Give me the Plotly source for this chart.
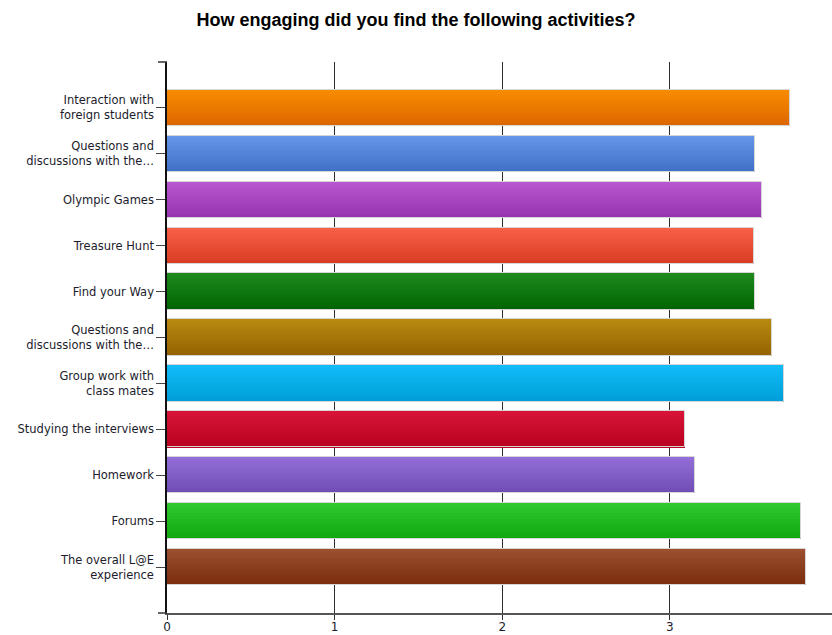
import plotly.graph_objects as go

# Survey results: mean engagement score per activity
activities = [
    "Interaction with<br>foreign students",
    "Questions and<br>discussions with the…",
    "Olympic Games",
    "Treasure Hunt",
    "Find your Way",
    "Questions and<br>discussions with the…",
    "Group work with<br>class mates",
    "Studying the interviews",
    "Homework",
    "Forums",
    "The overall L@E<br>experience",
]
scores = [3.72, 3.51, 3.55, 3.50, 3.51, 3.61, 3.68, 3.09, 3.15, 3.78, 3.81]
x_ticks = [0, 1, 2, 3]

# Gradient end colours (top, bottom) for each bar
top_colors = ["#f98c00", "#6797e8", "#b957d0", "#f86048", "#1e8a1e", "#b88a10",
              "#12bcf8", "#d81438", "#946ed8", "#30ca30", "#9c5030"]
bottom_colors = ["#dc6600", "#3f6fc6", "#9632ae", "#d83c22", "#006400", "#946200",
                 "#009ed8", "#b8001e", "#6e4cb4", "#0ea80e", "#7a2c0c"]

positions = list(range(len(activities)))
bar_width = 0.79
n_bands = 14


def hex_to_rgb(h):
    h = h.lstrip("#")
    return tuple(int(h[i:i + 2], 16) for i in (0, 2, 4))


def blend(c1, c2, t):
    a, b = hex_to_rgb(c1), hex_to_rgb(c2)
    return "rgb(%d,%d,%d)" % tuple(round(a[i] + (b[i] - a[i]) * t) for i in range(3))


fig = go.Figure()

# Vertical gradient built from thin overlaid bar slices
band = bar_width / n_bands
for k in range(n_bands):
    t = (k + 0.5) / n_bands
    fig.add_trace(go.Bar(
        x=scores, y=positions, orientation="h",
        width=band * 1.02, offset=-bar_width / 2 + k * band,
        marker=dict(color=[blend(tc, bc, t) for tc, bc in zip(top_colors, bottom_colors)],
                    line=dict(width=0)),
        hoverinfo="skip", showlegend=False,
    ))

# Light outline around each bar
fig.add_trace(go.Bar(
    x=scores, y=positions, orientation="h",
    width=bar_width, offset=-bar_width / 2,
    marker=dict(color="rgba(0,0,0,0)", line=dict(color="#d6d6d6", width=1)),
    showlegend=False,
))

plot_w = 832 - 167
x_max = plot_w / 167.6

fig.update_layout(
    width=832, height=635,
    margin=dict(l=167, r=0, t=62, b=22),
    paper_bgcolor="white", plot_bgcolor="white",
    barmode="overlay", bargap=0,
    showlegend=False,
    title=dict(
        text="<b>How engaging did you find the following activities?</b>",
        x=0.5, xref="container", xanchor="center",
        y=1 - 20 / 635, yref="container", yanchor="middle",
        font=dict(family="Liberation Sans, Arial, sans-serif", size=18, color="#000000"),
    ),
    font=dict(family="DejaVu Sans, sans-serif", size=11.5, color="#1c1c2c"),
    xaxis=dict(
        range=[0, x_max], tickvals=x_ticks, ticktext=[str(v) for v in x_ticks],
        showgrid=True, gridcolor="#2e2e2e", gridwidth=1, zeroline=False,
        showline=True, linecolor="#555555", linewidth=1.5,
        ticks="outside", ticklen=5, tickcolor="#333333",
        ticklabelstandoff=-3,
        tickfont=dict(size=12, color="#1c1c2c"),
        automargin=False,
    ),
    yaxis=dict(
        range=[len(activities), -1], tickvals=positions, ticktext=activities,
        showgrid=False, zeroline=False,
        showline=True, linecolor="#111111", linewidth=1.5,
        ticks="outside", ticklen=9, tickcolor="#444444",
        ticklabelstandoff=0,
        tickfont=dict(size=11.5, color="#1c1c2c"),
        automargin=False,
    ),
)

# Boundary ticks at the top and bottom of the value axis
for yp in (0, 1):
    fig.add_shape(type="line", xref="paper", yref="paper",
                  x0=-9 / plot_w, x1=0, y0=yp, y1=yp,
                  line=dict(color="#333333", width=1.5))

fig.write_html("out.html")
